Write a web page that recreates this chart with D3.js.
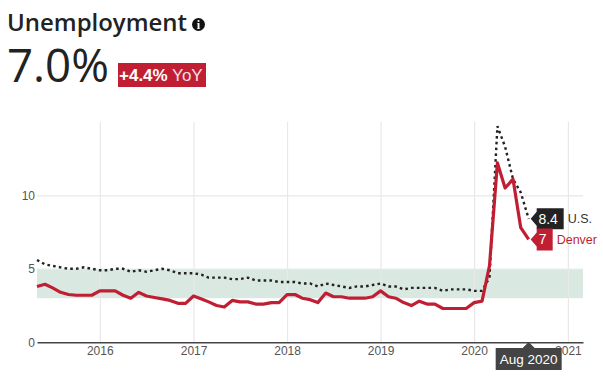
<!DOCTYPE html>
<html><head><meta charset="utf-8">
<script src="https://cdn.jsdelivr.net/npm/d3@7"></script>
<style>
html,body{margin:0;padding:0;background:#fff;overflow:hidden}
svg{display:block}
text{font-family:"Liberation Sans",Arial,sans-serif}
</style></head><body><div id="chart"></div>
<script>
const startMonth = "2015-05";
const denverValues = [3.8,3.95,3.7,3.4,3.25,3.2,3.2,3.2,
 3.5,3.5,3.5,3.2,3.0,3.4,3.15,3.05,2.95,2.85,2.65,2.65,
 3.15,2.95,2.75,2.5,2.4,2.85,2.75,2.75,2.6,2.6,2.7,2.7,
 3.25,3.25,3.0,2.9,2.7,3.35,3.1,3.1,3.0,3.0,3.0,3.1,
 3.5,3.1,3.0,2.7,2.5,2.8,2.6,2.6,2.3,2.3,2.3,2.3,
 2.7,2.8,5.2,12.2,10.5,11.1,7.8,7.0];
const usValues = [5.6,5.3,5.2,5.1,5.0,5.0,5.1,5.0,
 4.9,4.9,5.0,5.0,4.8,4.9,4.8,4.9,5.0,4.9,4.7,4.7,
 4.7,4.6,4.4,4.4,4.4,4.3,4.3,4.4,4.2,4.2,4.2,4.1,
 4.1,4.1,4.0,4.0,3.8,4.0,3.9,3.8,3.7,3.8,3.8,3.9,
 4.0,3.8,3.8,3.6,3.7,3.7,3.7,3.7,3.5,3.6,3.6,3.6,
 3.5,3.5,4.4,14.7,13.3,11.1,10.2,8.4];
const yTicks = [0,5,10];
const xTickYears = [2016,2017,2018,2019,2020,2021];
const bandRange = [3,5];
const titleText = "Unemployment";
const bigValue = "7.0%";
const changeBold = "+4.4%";
const changeRest = " YoY";
const usTag = "8.4", usName = "U.S.";
const denverTag = "7", denverName = "Denver";
const hoverLabel = "Aug 2020";

const RED="#c01f33";
const W=603,H=378;
const parse=d3.timeParse("%Y-%m");
const t0=parse(startMonth);
const dates=denverValues.map((_,i)=>d3.timeMonth.offset(t0,i));
const x=d3.scaleTime().domain([t0,new Date(2021,2,1)]).range([37,583]);
const y=d3.scaleLinear().domain([0,15]).range([342.3,121.8]);

const svg=d3.select("#chart").append("svg").attr("width",W).attr("height",H);

// header
svg.append("text").attr("x",7).attr("y",31).attr("font-size",24).attr("fill","#222")
  .style("font-family","'Open Sans'").attr("font-weight",600).attr("textLength",180).attr("lengthAdjust","spacingAndGlyphs").text(titleText);
const ic=svg.append("g").attr("transform","translate(198.5,24.5)");
ic.append("circle").attr("r",6.5).attr("fill","#111");
ic.append("text").attr("text-anchor","middle").attr("y",4.5).attr("font-size",12).attr("font-weight",700)
  .attr("fill","#fff").style("font-family","'Liberation Serif'").text("i");
svg.append("text").attr("x",7).attr("y",82).attr("font-size",46).attr("fill","#222")
  .style("font-family","'Open Sans'").attr("font-weight",400).attr("textLength",102).attr("lengthAdjust","spacingAndGlyphs").text(bigValue);
svg.append("rect").attr("x",118).attr("y",63).attr("width",88).attr("height",24).attr("fill",RED);
const ch=svg.append("text").attr("x",119).attr("y",81).attr("font-size",17).attr("fill","#fff")
  .attr("xml:space","preserve").style("white-space","pre");
ch.append("tspan").attr("font-weight",700).text(changeBold);
ch.append("tspan").attr("fill","#f3dfe2").text(changeRest);

// band
svg.append("rect").attr("x",x.range()[0]).attr("width",x.range()[1]-x.range()[0])
  .attr("y",y(bandRange[1])).attr("height",y(bandRange[0])-y(bandRange[1])).attr("fill","#dae8e2");

// grid and axes
const xTicks=xTickYears.map(v=>new Date(v,0,1));
const gx=svg.append("g").attr("transform",`translate(0,${y(0)})`)
  .call(d3.axisBottom(x).tickValues(xTicks).tickFormat(d3.timeFormat("%Y"))
    .tickSize(-(y(0)-y.range()[1])).tickSizeOuter(0).tickPadding(4));
gx.selectAll(".tick line").attr("stroke","#e8e8e8").attr("stroke-width",1.2);
gx.selectAll(".tick text").attr("font-size",12).attr("fill","#555");
const gy=svg.append("g").attr("transform","translate(37,0)")
  .call(d3.axisLeft(y).tickValues(yTicks).tickFormat(d3.format("d"))
    .tickSize(-(x.range()[1]-x.range()[0])).tickSizeOuter(0).tickPadding(2));
gy.select(".domain").remove();
gy.selectAll(".tick line").attr("stroke",d=>d===0?"none":"#e8e8e8").attr("stroke-width",1.2);
gy.selectAll(".tick text").attr("font-size",12).attr("fill","#555");
gx.select(".domain").attr("stroke","#444").attr("stroke-width",1.5).raise();

// lines
const line=d3.line().x((d,i)=>x(dates[i])).y(d=>y(d));
svg.append("path").datum(usValues).attr("d",line).attr("fill","none").attr("stroke","#222")
  .attr("stroke-width",2.4).attr("stroke-dasharray","2.6 3.2");
svg.append("path").datum(denverValues).attr("d",line).attr("fill","none").attr("stroke",RED)
  .attr("stroke-width",3.2).attr("stroke-linejoin","round");

// end tags
const last=dates.length-1, lx=x(dates[last]);
function tag(val,label,name,fill,nameFill,w,h){
  const cy=y(val), bx=lx+8;
  svg.append("path").attr("fill",fill)
    .attr("d",`M${lx+2},${cy}L${bx},${cy-7}V${cy-h/2}H${bx+w}V${cy+h/2}H${bx}V${cy+7}Z`);
  svg.append("text").attr("x",bx+w/2-2).attr("y",cy+5).attr("text-anchor","middle").attr("font-size",14)
    .attr("fill","#fff").text(label);
  svg.append("text").attr("x",bx+w+4).attr("y",cy+4.5).attr("font-size",12.5).attr("fill",nameFill).text(name);
}
tag(usValues[last],usTag,usName,"#222","#333",27,21);
tag(denverValues[last],denverTag,denverName,RED,RED,16,22);

// hover label
const hg=svg.append("g");
hg.append("path").attr("fill","#444").attr("d",`M${lx-33},348H${lx-6}L${lx},342L${lx+6},348H${lx+33}V370H${lx-33}Z`);
hg.append("text").attr("x",lx).attr("y",364).attr("text-anchor","middle").attr("font-size",13.5)
  .attr("fill","#fff").text(hoverLabel);
</script></body></html>
